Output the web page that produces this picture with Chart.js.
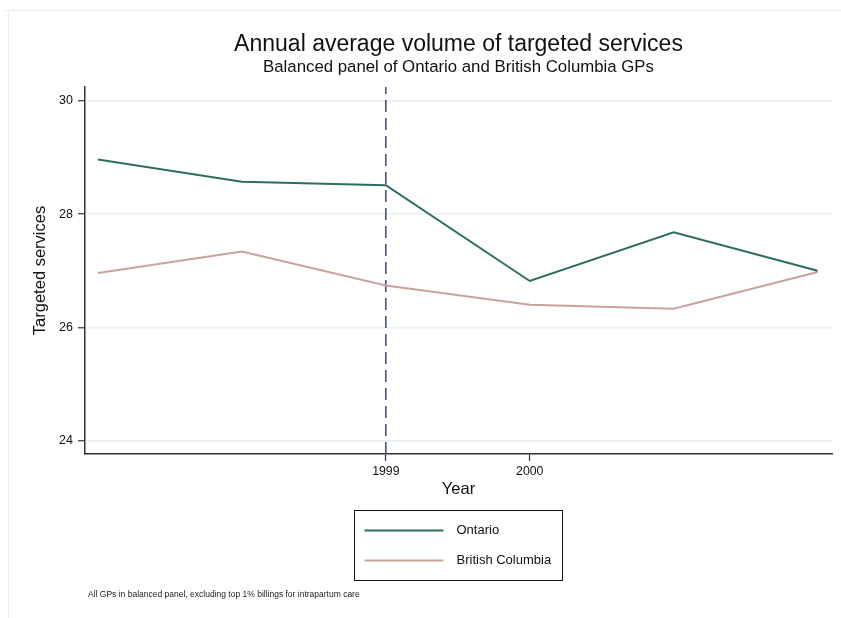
<!DOCTYPE html>
<html>
<head>
<meta charset="utf-8">
<title>Annual average volume of targeted services</title>
<script src="https://cdn.jsdelivr.net/npm/chart.js@4.4.1/dist/chart.umd.min.js"></script>
<style>
    html, body { margin: 0; padding: 0; background: #ffffff; }
    #wrap { width: 841px; height: 618px; }
</style>
</head>
<body>
<div id="wrap"><canvas id="volChart" width="841" height="618"></canvas></div>
<script>
// yearly averages per GP
const years = [1997, 1998, 1999, 2000, 2001, 2002];
const ontario = [28.96, 28.57, 28.51, 26.82, 27.68, 27.00];
const britishColumbia = [26.96, 27.34, 26.74, 26.40, 26.33, 26.98];

const xTickValues = [1999, 2000];
const yTickValues = [24, 26, 28, 30];
const policyYear = 1999;

const titleText = 'Annual average volume of targeted services';
const subtitleText = 'Balanced panel of Ontario and British Columbia GPs';
const noteText = 'All GPs in balanced panel, excluding top 1% billings for intrapartum care';

const FONT = "'Liberation Sans', Arial, Helvetica, sans-serif";
const colors = {
    ontario: '#2b6d61',
    bc: '#c8a39b',
    policy: '#3d4a72',
    axis: '#333333',
    grid: '#e8eff2',
    frame: '#e5edf0'
};

const X_MIN = 1996.91, X_MAX = 2002.1;
const Y_MIN = 23.77, Y_MAX = 30.24;

function pairs(xs, ys) {
    return xs.map((x, i) => ({ x: x, y: ys[i] }));
}

const pageDecor = {
    id: 'pageDecor',
    beforeDraw(chart) {
        const c = chart.ctx;
        c.save();
        c.strokeStyle = colors.frame;
        c.lineWidth = 1;
        c.beginPath();
        c.moveTo(5, 10.5);
        c.lineTo(chart.width, 10.5);
        c.moveTo(8.5, 10);
        c.lineTo(8.5, chart.height);
        c.stroke();
        c.restore();
    },
    afterDraw(chart) {
        const c = chart.ctx;
        const area = chart.chartArea;
        const cx = (area.left + area.right) / 2;
        c.save();
        c.fillStyle = '#111111';
        c.textAlign = 'center';
        c.textBaseline = 'alphabetic';
        c.font = '23px ' + FONT;
        c.fillText(titleText, cx, 51);
        c.font = '16.8px ' + FONT;
        c.fillText(subtitleText, cx, 72);

        // legend box under the x axis
        const box = { x: 354.5, y: 510.5, w: 208, h: 70 };
        c.strokeStyle = '#111111';
        c.lineWidth = 1;
        c.strokeRect(box.x, box.y, box.w, box.h);
        const entries = chart.data.datasets.filter(d => !d.hideInLegend);
        c.textAlign = 'left';
        c.textBaseline = 'middle';
        c.font = '13px ' + FONT;
        entries.forEach((d, i) => {
            const y = box.y + 20 + i * 30;
            c.strokeStyle = d.borderColor;
            c.lineWidth = 2;
            c.beginPath();
            c.moveTo(box.x + 10, y);
            c.lineTo(box.x + 89, y);
            c.stroke();
            c.fillStyle = '#111111';
            c.fillText(d.label, box.x + 102, y);
        });

        c.font = '8.5px ' + FONT;
        c.fillStyle = '#222222';
        c.textBaseline = 'alphabetic';
        c.fillText(noteText, 88, 597);
        c.restore();
    }
};

new Chart(document.getElementById('volChart').getContext('2d'), {
    type: 'line',
    data: {
        datasets: [
            {
                label: 'Ontario',
                data: pairs(years, ontario),
                borderColor: colors.ontario,
                borderWidth: 2,
                pointRadius: 0,
                tension: 0
            },
            {
                label: 'British Columbia',
                data: pairs(years, britishColumbia),
                borderColor: colors.bc,
                borderWidth: 2,
                pointRadius: 0,
                tension: 0
            },
            {
                label: 'policy',
                hideInLegend: true,
                data: [{ x: policyYear, y: Y_MIN }, { x: policyYear, y: Y_MAX }],
                borderColor: colors.policy,
                borderWidth: 1.5,
                borderDash: [12, 6],
                pointRadius: 0
            }
        ]
    },
    options: {
        responsive: false,
        animation: false,
        events: [],
        layout: { padding: { top: 87, right: 9, left: 0, bottom: 0 } },
        plugins: {
            legend: { display: false },
            tooltip: { enabled: false }
        },
        scales: {
            x: {
                type: 'linear',
                min: X_MIN,
                max: X_MAX,
                afterBuildTicks: scale => { scale.ticks = xTickValues.map(v => ({ value: v })); },
                afterFit: scale => { scale.height = 164; },
                ticks: {
                    color: '#111111',
                    font: { family: FONT, size: 12.3 },
                    padding: 3,
                    maxRotation: 0,
                    callback: v => String(v)
                },
                grid: {
                    drawOnChartArea: false,
                    tickLength: 7,
                    tickColor: colors.axis,
                    tickWidth: 1.2
                },
                border: { color: colors.axis, width: 1.5 },
                title: {
                    display: true,
                    text: 'Year',
                    color: '#111111',
                    font: { family: FONT, size: 16.5 },
                    padding: { top: 0, bottom: 119 }
                }
            },
            y: {
                min: Y_MIN,
                max: Y_MAX,
                afterBuildTicks: scale => { scale.ticks = yTickValues.map(v => ({ value: v })); },
                afterFit: scale => { scale.width = 85; },
                ticks: {
                    color: '#111111',
                    font: { family: FONT, size: 12.5 },
                    padding: 5,
                    callback: v => String(v)
                },
                grid: {
                    color: colors.grid,
                    lineWidth: 1.5,
                    tickLength: 7,
                    tickColor: colors.axis,
                    tickWidth: 1.2
                },
                border: { color: colors.axis, width: 1.5 },
                title: {
                    display: true,
                    text: 'Targeted services',
                    color: '#111111',
                    font: { family: FONT, size: 16.5 },
                    padding: { top: 31, bottom: 0 }
                }
            }
        }
    },
    plugins: [pageDecor]
});
</script>
</body>
</html>
